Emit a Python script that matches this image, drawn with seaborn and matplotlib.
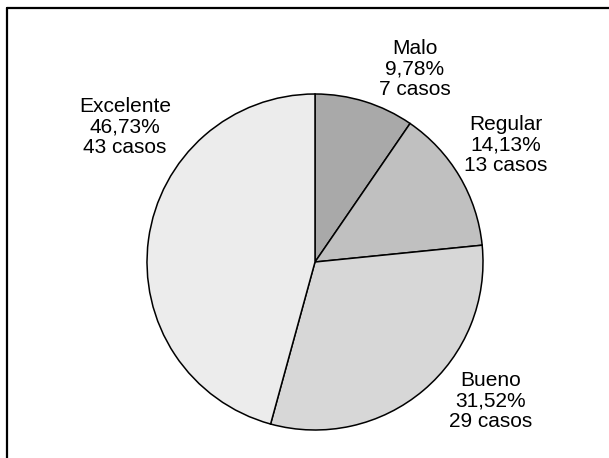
import matplotlib
matplotlib.use("Agg")
import matplotlib.pyplot as plt
import seaborn as sns
from matplotlib.lines import Line2D

categories = ["Malo", "Regular", "Bueno", "Excelente"]
casos = [7, 13, 29, 43]
porcentajes = [9.78, 14.13, 31.52, 46.73]
colores = ["#a9a9a9", "#c0c0c0", "#d7d7d7", "#ececec"]

sns.set_theme(style="white")
plt.rcParams['font.family'] = ['Liberation Sans', 'DejaVu Sans']

W, H = 609, 458
fig = plt.figure(figsize=(W / 100, H / 100), dpi=100)
ax = fig.add_axes([0, 0, 1, 1])

ax.pie(porcentajes, colors=colores, startangle=90, counterclock=False,
       center=(315, 196), radius=168, frame=True,
       wedgeprops=dict(edgecolor='black', linewidth=1.1))
ax.set_xlim(0, W)
ax.set_ylim(0, H)
ax.set_aspect('equal')
ax.axis('off')

label_pos = {"Malo": (415, 389), "Regular": (506, 313),
             "Bueno": (491, 57), "Excelente": (125, 331)}
for cat, n, p in zip(categories, casos, porcentajes):
    x, y = label_pos[cat]
    txt = f"{cat}\n{p:.2f}%\n{n} casos".replace(".", ",")
    ax.text(x, y, txt, ha='center', va='center',
            fontsize=15, linespacing=1.08, color='black')

fig.add_artist(Line2D([7 / W, 1], [1 - 8 / H, 1 - 8 / H], transform=fig.transFigure,
                      color='black', linewidth=1.6))
fig.add_artist(Line2D([7 / W, 7 / W], [0, 1 - 8 / H], transform=fig.transFigure,
                      color='black', linewidth=1.6))

fig.savefig("out.png", dpi=100)
